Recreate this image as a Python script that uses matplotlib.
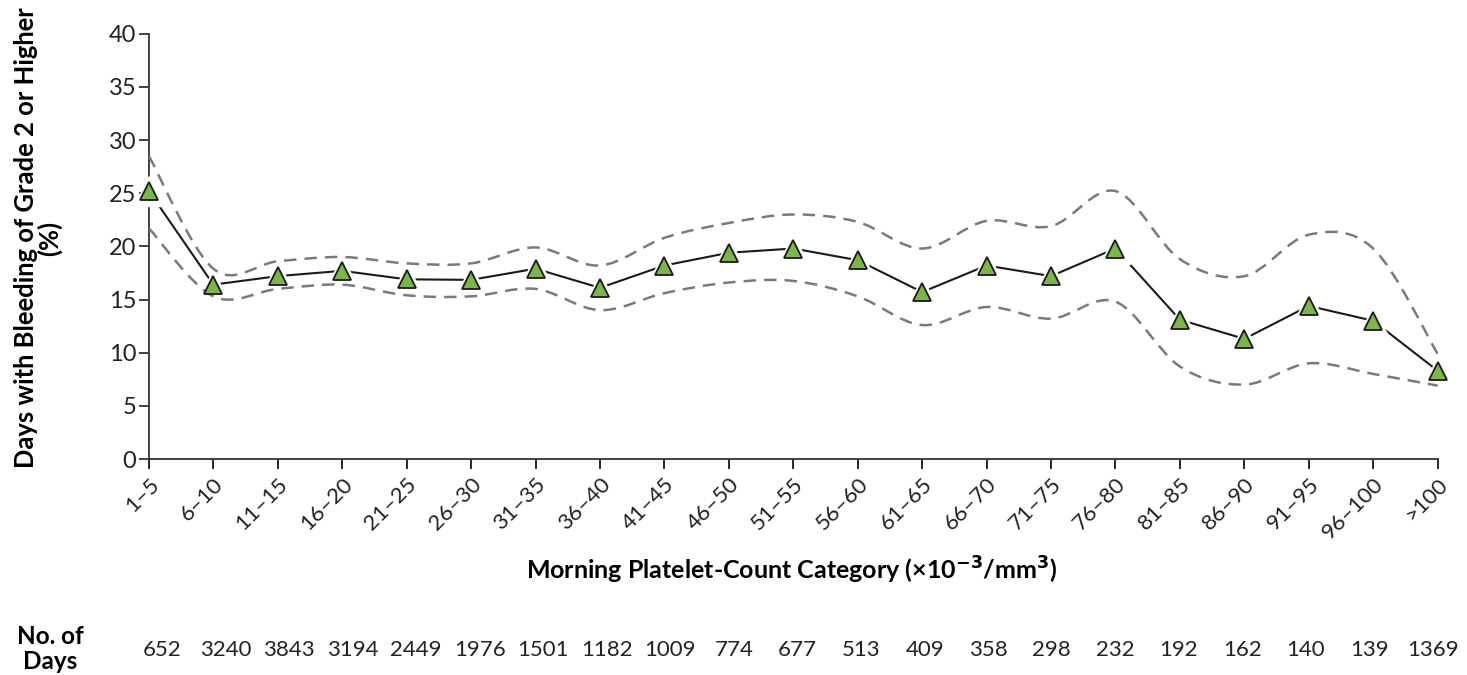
import matplotlib
matplotlib.use("Agg")
import matplotlib.pyplot as plt
from matplotlib.path import Path
from matplotlib.patches import PathPatch
import numpy as np

plt.rcParams["font.family"] = ["Lato", "DejaVu Sans"]

categories = ["1–5", "6–10", "11–15", "16–20", "21–25", "26–30", "31–35", "36–40",
              "41–45", "46–50", "51–55", "56–60", "61–65", "66–70", "71–75", "76–80",
              "81–85", "86–90", "91–95", "96–100", ">100"]
pct_bleeding = [25.2, 16.4, 17.2, 17.7, 16.9, 16.85, 17.9, 16.1, 18.2, 19.4, 19.8,
                18.7, 15.7, 18.2, 17.2, 19.8, 13.1, 11.3, 14.4, 13.0, 8.3]
ci_upper = [28.5, 17.9, 18.6, 19.0, 18.4, 18.4, 19.9, 18.2, 20.8, 22.2, 23.0,
            22.3, 19.8, 22.4, 21.9, 25.2, 18.8, 17.2, 21.1, 19.8, 9.9]
ci_lower = [21.7, 15.3, 16.0, 16.4, 15.4, 15.3, 16.0, 14.0, 15.6, 16.6, 16.75,
            15.3, 12.6, 14.3, 13.2, 14.8, 8.7, 7.0, 9.0, 8.0, 6.9]
n_days = [652, 3240, 3843, 3194, 2449, 1976, 1501, 1182, 1009, 774, 677, 513,
          409, 358, 298, 232, 192, 162, 140, 139, 1369]


def smooth_path(xs, ys, tension=6.0):
    # Catmull-Rom through the points, drawn as cubic Bezier segments
    pts = np.column_stack([xs, ys])
    verts = [pts[0]]
    codes = [Path.MOVETO]
    n = len(pts)
    for i in range(n - 1):
        p0 = pts[max(i - 1, 0)]
        p1 = pts[i]
        p2 = pts[i + 1]
        p3 = pts[min(i + 2, n - 1)]
        c1 = p1 + (p2 - p0) / tension
        c2 = p2 - (p3 - p1) / tension
        verts += [c1, c2, p2]
        codes += [Path.CURVE4] * 3
    return Path(verts, codes)


fig = plt.figure(figsize=(14.67, 6.75), dpi=100)
ax = fig.add_axes([0.1015, 0.32, 0.8785, 0.63])

x = np.arange(len(categories))

ax.plot(x, pct_bleeding, color="#1a1a1a", lw=1.5, zorder=2)
# white halo so the line stops short of each marker
ax.plot(x, pct_bleeding, linestyle="none", marker="^", markersize=21,
        markerfacecolor="white", markeredgecolor="white", zorder=3, clip_on=False)

for band in (ci_upper, ci_lower):
    patch = PathPatch(smooth_path(x, band), facecolor="none", edgecolor="#7a7a7a",
                      lw=1.8, linestyle=(0, (5, 3.2)), zorder=4)
    ax.add_patch(patch)

ax.plot(x, pct_bleeding, linestyle="none", marker="^", markersize=13,
        markerfacecolor="#7ab648", markeredgecolor="#1a1a1a", markeredgewidth=1.3,
        zorder=5, clip_on=False)

ax.set_xlim(0, len(categories) - 1)
ax.set_ylim(0, 40)
ax.set_yticks(range(0, 41, 5))
ax.set_xticks(x)
ax.set_xticklabels(categories, rotation=45, ha="right", rotation_mode="anchor",
                   fontsize=16, color="#222222")
ax.tick_params(axis="y", labelsize=17, colors="#222222", direction="out",
               length=7, width=1.2, pad=2)
ax.tick_params(axis="x", direction="out", length=7, width=1.2, pad=4)

for side in ("top", "right"):
    ax.spines[side].set_visible(False)
for side in ("left", "bottom"):
    ax.spines[side].set_linewidth(1.3)
    ax.spines[side].set_color("#333333")

ylab = fig.text(38 / 1467, 1 - 238 / 675, "Days with Bleeding of Grade 2 or Higher\n(%)",
                rotation=90, ha="center", va="center", multialignment="center",
                fontsize=16, fontweight="bold", linespacing=0.95)
# fit the label to the height it takes in the original (~462 px)
fig.canvas.draw()
h = ylab.get_window_extent().height
ylab.set_fontsize(16 * 462 / h)

fig.text(0.54, 0.155, r"Morning Platelet-Count Category (×10$^{\mathbf{-3}}$/mm$^{\mathbf{3}}$)",
         ha="center", va="center", fontsize=18, fontweight="bold")

fig.text(0.034, 0.039, "No. of\nDays", ha="center", va="center", fontsize=17.5,
         fontweight="bold", linespacing=1.1)
for i, n in enumerate(n_days):
    xpos = (162 + 63.55 * i) / 1467
    fig.text(xpos, 0.037, str(n), ha="center", va="center", fontsize=16,
             color="#222222")

fig.savefig("out.png", dpi=100, facecolor="white")
